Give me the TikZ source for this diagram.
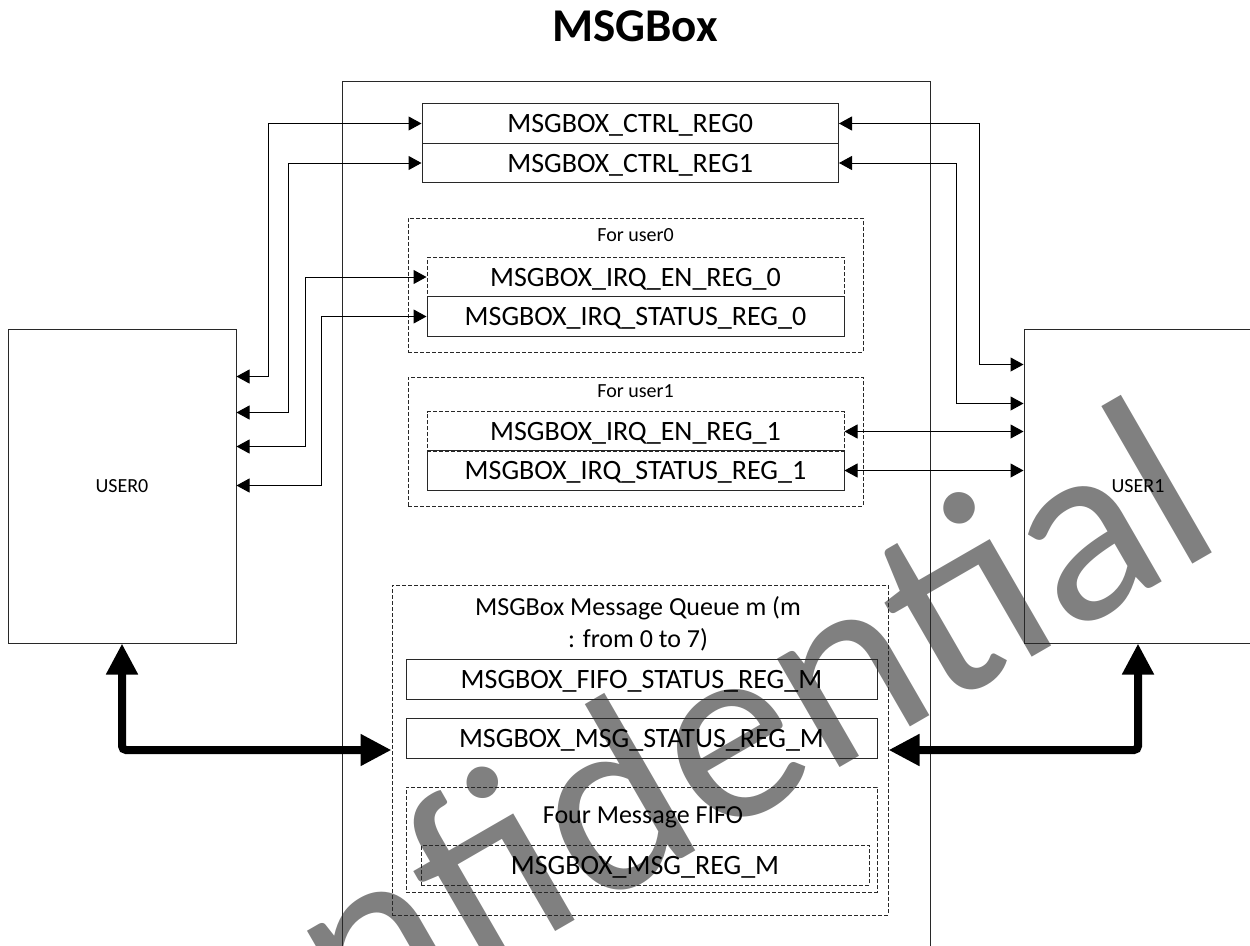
\documentclass[tikz,border=0pt]{standalone}
\usepackage{fontspec}
\setmainfont{Carlito}
\usetikzlibrary{arrows.meta,calc}
\definecolor{wmgray}{RGB}{128,128,128}
\definecolor{linegray}{RGB}{40,40,40}

\begin{document}
\begin{tikzpicture}[x=1pt,y=-1pt,
  box/.style={draw=linegray, line width=1pt, inner sep=0pt},
  dbox/.style={box, dash pattern=on 4pt off 2pt},
  regtext/.style={font=\fontsize{28}{30}\selectfont, text height=18pt, text depth=0pt},
  reg/.style={box, regtext, minimum width=417pt, minimum height=39.5pt},
  dreg/.style={reg, dash pattern=on 4pt off 2pt},
  lbl/.style={inner sep=0pt, font=\fontsize{20}{22}\selectfont, text height=13pt, text depth=0pt},
  qlbl/.style={inner sep=0pt, font=\fontsize{26}{28}\selectfont, anchor=base},
  user/.style={box, lbl, minimum width=228pt, minimum height=314pt},
  tipthin/.tip={Triangle[length=13pt,width=14pt]},
  biarr/.style={draw=black, line width=1pt, tipthin-tipthin},
  tipbig/.tip={Triangle[length=31pt,width=30pt]},
  bigarr/.style={draw=black, line width=8pt, tipbig-tipbig, rounded corners=4pt}
]
\useasboundingbox (0,0) rectangle (1250,945);
\clip (0,0) rectangle (1250,945);

% watermark lying behind the block diagram
\node[rotate=30, anchor=base, inner sep=0pt, text=wmgray,
      font=\fontsize{262}{262}\selectfont] (wm) at (671,865) {Confidential};

% title
\node[anchor=base, inner sep=0pt, font=\fontsize{47}{50}\selectfont\bfseries]
  (title) at (635,41) {MSGBox};

% MSGBox block
\node[box, minimum width=588pt, minimum height=919pt] (mainblk) at (636,540.5) {};

% control registers
\node[reg, minimum width=416.5pt] (ctrl0) at (630.25,123.5) {MSGBOX\_CTRL\_REG0};
\node[reg, minimum width=416.5pt] (ctrl1) at (630.25,163) {MSGBOX\_CTRL\_REG1};

% user0 interrupt registers
\node[dbox, minimum width=455pt, minimum height=134pt] (grp0) at (635.5,285) {};
\node[lbl] (grp0lbl) at (635.5,235) {For user0};
\node[dreg] (irqen0) at (635.5,277) {MSGBOX\_IRQ\_EN\_REG\_0};
\node[reg] (irqst0) at (635.5,316.5) {MSGBOX\_IRQ\_STATUS\_REG\_0};

% user1 interrupt registers
\node[dbox, minimum width=455pt, minimum height=129pt] (grp1) at (635.5,441.5) {};
\node[lbl] (grp1lbl) at (635.5,391) {For user1};
\node[dreg] (irqen1) at (635.5,431.5) {MSGBOX\_IRQ\_EN\_REG\_1};
\node[reg] (irqst1) at (635.5,470.5) {MSGBOX\_IRQ\_STATUS\_REG\_1};

% message queue
\node[dbox, minimum width=496pt, minimum height=330pt] (queue) at (640,750) {};
\node[qlbl] (qtitle) at (638,615) {MSGBox Message Queue m (m};
\node[qlbl] (qtitleb) at (638,647) {: from 0 to 7)};
\node[reg, minimum width=471pt] (fifost) at (641.5,679.5) {MSGBOX\_FIFO\_STATUS\_REG\_M};
\node[reg, minimum width=471pt] (msgst) at (641.5,738.5) {MSGBOX\_MSG\_STATUS\_REG\_M};
\node[dbox, minimum width=471pt, minimum height=105pt] (fifo) at (641.5,839.5) {};
\node[qlbl] (fifolbl) at (643,823) {Four Message FIFO};
\node[dreg, minimum width=448pt] (msgreg) at (645,865.5) {MSGBOX\_MSG\_REG\_M};

% users
\node[user] (user0) at (122,486) {USER0};
\node[user] (user1) at (1138,486) {USER1};

% attachment points on the user blocks
\coordinate (u0a) at ($(user0.north east)+(0,48)$);
\coordinate (u0b) at ($(user0.north east)+(0,84)$);
\coordinate (u0c) at ($(user0.north east)+(0,118)$);
\coordinate (u0d) at ($(user0.north east)+(0,157)$);
\coordinate (u1a) at ($(user1.north west)+(0,36)$);
\coordinate (u1b) at ($(user1.north west)+(0,75)$);

% register access from USER0
\draw[biarr] (u0a) -| ([xshift=-153pt]ctrl0.west) -- (ctrl0.west);
\draw[biarr] (u0b) -| ([xshift=-133pt]ctrl1.west) -- (ctrl1.west);
\draw[biarr] (u0c) -| ([xshift=-121pt]irqen0.west) -- (irqen0.west);
\draw[biarr] (u0d) -| ([xshift=-105pt]irqst0.west) -- (irqst0.west);

% register access from USER1
\draw[biarr] (ctrl0.east) -- ([xshift=140.5pt]ctrl0.east) |- (u1a);
\draw[biarr] (ctrl1.east) -- ([xshift=117.5pt]ctrl1.east) |- (u1b);
\draw[biarr] (irqen1.east) -- (irqen1.east -| user1.west);
\draw[biarr] (irqst1.east) -- (irqst1.east -| user1.west);

% message queue buses
\draw[bigarr] (user0.south) |- (queue.west);
\draw[bigarr] (user1.south) |- (queue.east);
\end{tikzpicture}
\end{document}
